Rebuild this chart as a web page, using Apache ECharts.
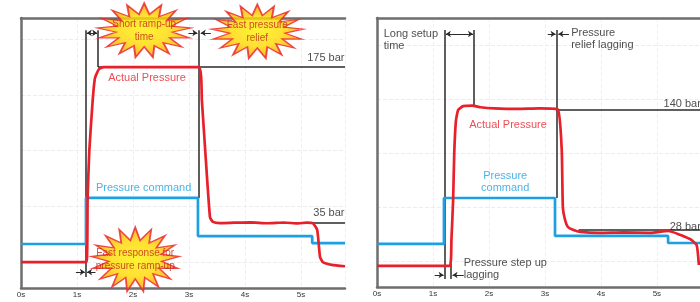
<!DOCTYPE html>
<html>
<head>
<meta charset="utf-8">
<title>Pressure response</title>
<script src="https://cdn.jsdelivr.net/npm/echarts@6/dist/echarts.min.js"></script>
<style>
html, body { margin: 0; padding: 0; background: #fff; }
#chart { width: 700px; height: 302px; }
</style>
</head>
<body>
<div id="chart"></div>
<script>
// time ticks (s)
const timeTicks = ['0s', '1s', '2s', '3s', '4s', '5s'];

// left panel: fast valve  [time s, pressure bar]
const leftActual = [
  [0, 0], [1.17, 0], [1.19, 58], [1.22, 100], [1.28, 145], [1.32, 165], [1.39, 173], [1.47, 175],
  [2.2, 175], [3.18, 175], [3.23, 145], [3.29, 100], [3.375, 40], [3.43, 36], [3.55, 35],
  [3.8, 35.3], [4.1, 35.6], [4.4, 34.8], [4.7, 35.5], [4.95, 34.6], [5.1, 35.4], [5.21, 35],
  [5.29, 28.7], [5.34, 4.5], [5.39, 0], [5.55, -2.5], [5.786, -3.8]
];
const leftCommand = [
  [0, 16.2], [1.16, 16.2], [1.16, 57.5], [3.16, 57.5], [3.16, 23.3], [5.2, 23.3], [5.2, 17], [5.786, 17]
];

// right panel: slow valve
const rightActual = [
  [0, -4.6], [1.30, -4.6], [1.33, 20], [1.36, 56.5], [1.38, 100], [1.41, 130], [1.45, 140], [1.54, 143.5],
  [1.7, 144], [1.85, 142.5], [2.1, 141.5], [2.5, 141], [2.9, 141.5], [3.23, 140.5], [3.30, 103],
  [3.32, 50], [3.36, 38], [3.41, 31.5], [3.5, 29], [3.63, 27], [3.98, 26], [4.4, 26.5], [4.88, 26],
  [5.2, 27.8], [5.59, 20.4], [5.71, 14.8], [5.75, -3.7]
];
const rightCommand = [
  [0, 15.8], [1.196, 15.8], [1.196, 58.4], [3.18, 58.4], [3.18, 23.2], [5.2, 23.2], [5.2, 16.7], [5.77, 16.7]
];

// annotation guides [[t1, bar1], [t2, bar2]]
const leftGuides = [
  [[1.16, 208], [1.16, -13.5]], [[1.375, 208], [1.375, 175]],
  [[3.18, 208], [3.18, 57.5]], [[1.375, 175], [5.786, 175]], [[3.5, 35], [5.786, 35]]
];
const leftArrows = [
  [[2.99, 205.6], [3.15, 205.6]], [[3.39, 205.6], [3.21, 205.6]],
  [[0.98, -9], [1.14, -9]], [[1.33, -9], [1.18, -9]]
];
const leftDoubleArrows = [[[1.175, 205.6], [1.36, 205.6]]];

const rightGuides = [
  [[1.214, 214], [1.214, -16.7]], [[1.73, 214], [1.73, 143.7]],
  [[3.21, 214], [3.21, 58.4]], [[3.21, 140], [5.77, 140]], [[3.6, 28.5], [5.77, 28.5]],
  [[1.32, -2], [1.32, -16.7]]
];
const rightArrows = [
  [[3.05, 210.4], [3.19, 210.4]], [[3.43, 210.4], [3.24, 210.4]],
  [[1.03, -13], [1.19, -13]], [[1.55, -13], [1.35, -13]]
];
const rightDoubleArrows = [[[1.23, 210.4], [1.715, 210.4]]];

// starburst callouts [t, bar, text, w, h]
const leftBursts = [
  [2.2, 208, 'Short ramp-up\ntime', 94, 54],
  [4.22, 207, 'Fast pressure\nrelief', 92, 54],
  [2.04, 2.5, 'Fast response for\npressure ramp-up', 88, 64]
];

// text notes [t, bar, text, color, anchor]
const leftNotes = [
  [2.25, 165, 'Actual Pressure', '#e8202a', 'center'],
  [1.33, 66.4, 'Pressure command', '#1d9fe2', 'left'],
  [5.786, 183, '175 bar', '#222', 'right'],
  [5.786, 44, '35 bar', '#222', 'right']
];
const rightNotes = [
  [0.11, 205, 'Long setup\ntime', '#222', 'left'],
  [3.46, 205.7, 'Pressure\nrelief lagging', '#222', 'left'],
  [5.11, 145.5, '140 bar', '#222', 'left'],
  [5.22, 31.5, '28 bar', '#222', 'left'],
  [2.34, 126, 'Actual Pressure', '#e8202a', 'center'],
  [2.29, 73.7, 'Pressure\ncommand', '#1d9fe2', 'center'],
  [1.54, -7, 'Pressure step up\nlagging', '#222', 'left']
];

const FONT = "'Liberation Sans', Arial, sans-serif";
const RED = '#e8202a';
const BLUE = '#1d9fe2';
const FRAME = '#6e6e6e';

function burstPath(n) {
  let d = '';
  for (let i = 0; i < n * 2; i++) {
    const r = i % 2 ? 30 : 50;
    const a = Math.PI * i / n - Math.PI / 2;
    d += (i ? 'L' : 'M') + (50 + r * Math.cos(a)).toFixed(1) + ' ' + (50 + r * Math.sin(a)).toFixed(1);
  }
  return 'path://' + d + 'Z';
}
const BURST = burstPath(17);

const xBottom = (grid, max) => ({
  gridIndex: grid, type: 'value', min: 0, max: max, interval: 1,
  axisLine: { onZero: false, lineStyle: { color: FRAME, width: 2.5 } },
  axisTick: { show: false },
  axisLabel: {
    showMaxLabel: false, margin: 3, fontSize: 8, color: '#333', fontFamily: FONT,
    formatter: v => timeTicks[v] || ''
  },
  splitLine: { show: true, lineStyle: { color: '#f0f0f0', type: 'dashed' } }
});
const xTop = (grid, max) => ({
  gridIndex: grid, type: 'value', position: 'top', min: 0, max: max,
  axisLine: { onZero: false, lineStyle: { color: FRAME, width: 2.5 } },
  axisTick: { show: false }, axisLabel: { show: false }, splitLine: { show: false }
});
const yLeft = (grid, min, max) => ({
  gridIndex: grid, type: 'value', min: min, max: max, splitNumber: 6,
  axisLine: { show: true, onZero: false, lineStyle: { color: FRAME, width: 2.5 } },
  axisTick: { show: false }, axisLabel: { show: false },
  splitLine: { show: true, lineStyle: { color: '#ececec', type: 'dashed' } }
});

function curve(data, color, axis, z) {
  return {
    type: 'line', xAxisIndex: axis * 2, yAxisIndex: axis, data: data,
    showSymbol: false, smooth: 0.15, animation: false, z: z,
    lineStyle: { color: color, width: 2.7 }
  };
}
function guides(list, axis, symbol, width) {
  return {
    type: 'lines', coordinateSystem: 'cartesian2d', xAxisIndex: axis * 2, yAxisIndex: axis,
    polyline: false, animation: false, z: 1,
    symbol: symbol, symbolSize: 5,
    lineStyle: { color: '#2a2a2a', width: width, opacity: 1 },
    data: list.map(c => ({ coords: c }))
  };
}
function notes(list, axis) {
  return {
    type: 'scatter', xAxisIndex: axis * 2, yAxisIndex: axis, symbolSize: 1, clip: false,
    itemStyle: { color: 'rgba(0,0,0,0)' }, animation: false, z: 6,
    data: list.map(n => ({
      value: [n[0], n[1]], name: n[2],
      label: {
        show: true, formatter: '{b}', color: n[3], fontSize: 11, lineHeight: 12, fontFamily: FONT,
        position: n[4] === 'left' ? 'right' : n[4] === 'right' ? 'left' : 'inside', distance: 0,
        align: n[4]
      }
    }))
  };
}
function bursts(list, axis) {
  return {
    type: 'scatter', xAxisIndex: axis * 2, yAxisIndex: axis, clip: false, animation: false, z: 5,
    symbol: BURST, symbolKeepAspect: false,
    itemStyle: {
      color: {
        type: 'radial', x: 0.5, y: 0.5, r: 0.5,
        colorStops: [{ offset: 0, color: '#fff000' }, { offset: 0.55, color: '#ffd800' }, { offset: 1, color: '#ff9a00' }]
      },
      borderColor: '#e8202a', borderWidth: 1.5
    },
    data: list.map(b => ({
      value: [b[0], b[1]], name: b[2], symbolSize: [b[3], b[4]],
      label: {
        show: true, position: 'inside', formatter: '{b}', color: '#c0281a',
        fontSize: 10, lineHeight: 13, fontFamily: "'Liberation Sans Narrow', " + FONT
      }
    }))
  };
}

const chart = echarts.init(document.getElementById('chart'), null, { renderer: 'canvas' });
chart.setOption({
  backgroundColor: '#fff',
  animation: false,
  grid: [
    { left: 21, top: 18, width: 324, height: 270 },
    { left: 377, top: 18, width: 323, height: 269 }
  ],
  xAxis: [xBottom(0, 5.786), xTop(0, 5.786), xBottom(1, 5.77), xTop(1, 5.77)],
  yAxis: [yLeft(0, -23.3, 219), yLeft(1, -24.1, 225.2)],
  series: [
    guides(leftGuides, 0, 'none', 1.5),
    guides(leftArrows, 0, ['none', 'arrow'], 1),
    guides(leftDoubleArrows, 0, ['arrow', 'arrow'], 1),
    curve(leftCommand, BLUE, 0, 3),
    curve(leftActual, RED, 0, 4),
    bursts(leftBursts, 0),
    notes(leftNotes, 0),
    guides(rightGuides, 1, 'none', 1.5),
    guides(rightArrows, 1, ['none', 'arrow'], 1),
    guides(rightDoubleArrows, 1, ['arrow', 'arrow'], 1),
    curve(rightCommand, BLUE, 1, 3),
    curve(rightActual, RED, 1, 4),
    notes(rightNotes, 1)
  ]
});
</script>
</body>
</html>
